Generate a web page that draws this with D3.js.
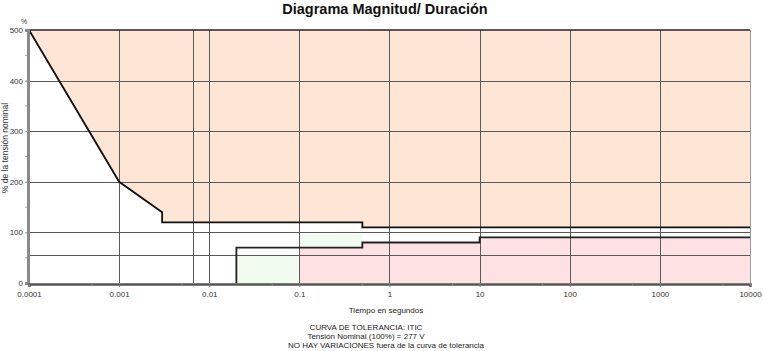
<!DOCTYPE html>
<html>
<head>
<meta charset="utf-8">
<script src="https://cdnjs.cloudflare.com/ajax/libs/d3/7.8.5/d3.min.js"></script>
<style>
  body { margin: 0; background: #fff; }
  svg { font-family: "Liberation Sans", Arial, sans-serif; }
</style>
</head>
<body>
<svg></svg>
<script>
// ITIC curve (time in s, % of nominal)
let upperT = [0.0001, 0.001, 0.003, 0.003, 0.5, 0.5, 10000]
let upperV = [500, 200, 140, 120, 120, 110, 110]
let lowerT = [0.02, 0.02, 0.5, 0.5, 10, 10, 10000]
let lowerV = [0, 70, 70, 80, 80, 90, 90]

// shaded zones [t0, t1, v0, v1]
let greenZones = [[0.02, 0.1, 0, 56], [0.1, 0.5, 72, 96]]
let pinkFrom = 0.1

let xTicks = [0.0001, 0.001, 0.01, 0.1, 1, 10, 100, 1000, 10000]
let xLabels = ['0.0001', '0.001', '0.01', '0.1', '1', '10', '100', '1000', '10000']
let xMinor = [0.0005, 0.005, 0.05, 0.5, 5, 50, 500, 5000]
let yTicks = [0, 100, 200, 300, 400, 500]
let yMinor = [50, 150, 250, 350, 450]
let xExtraGrid = [0.0066]
let yExtraGrid = [56]

let width = 763
let height = 351
let pLeft = 29, pRight = 750, pTop = 30, pBottom = 283

let svg = d3.select('svg').attr('width', width).attr('height', height)

let xScale = d3.scaleLog().domain([0.0001, 10000]).range([pLeft, pRight])
let yScale = d3.scaleLinear().domain([0, 500]).range([pBottom, pTop])

let upper = upperT.map((t, i) => [t, upperV[i]])
let lower = lowerT.map((t, i) => [t, lowerV[i]])

// peach zone above the upper curve
svg.append('path')
   .datum(upper)
   .attr('fill', '#fde6d6')
   .attr('d', d3.area().x(d => xScale(d[0])).y0(yScale(500)).y1(d => yScale(d[1])))

// pink zone under lower curve
svg.append('clipPath').attr('id', 'pinkClip')
   .append('rect')
   .attr('x', xScale(pinkFrom)).attr('y', pTop)
   .attr('width', xScale(10000) - xScale(pinkFrom)).attr('height', pBottom - pTop)

svg.append('path')
   .datum(lower)
   .attr('clip-path', 'url(#pinkClip)')
   .attr('fill', '#fde1e3')
   .attr('d', d3.area().x(d => xScale(d[0])).y0(yScale(0)).y1(d => yScale(d[1])))

svg.selectAll('.green')
   .data(greenZones)
   .enter()
   .append('rect')
   .attr('class', 'green')
   .attr('fill', '#f1fbf0')
   .attr('x', d => xScale(d[0]))
   .attr('width', d => xScale(d[1]) - xScale(d[0]))
   .attr('y', d => yScale(d[3]))
   .attr('height', d => yScale(d[2]) - yScale(d[3]))

// grid
let grid = svg.append('g').attr('stroke', '#5a5a5a').attr('stroke-width', 1)
grid.selectAll('.vg')
    .data(xTicks.slice(1, -1).concat(xExtraGrid))
    .enter().append('line')
    .attr('x1', d => Math.round(xScale(d)) + 0.5).attr('x2', d => Math.round(xScale(d)) + 0.5)
    .attr('y1', pTop).attr('y2', pBottom)
grid.selectAll('.hg')
    .data(yTicks.slice(1, -1).concat(yExtraGrid))
    .enter().append('line')
    .attr('y1', d => Math.round(yScale(d)) + 0.5).attr('y2', d => Math.round(yScale(d)) + 0.5)
    .attr('x1', pLeft).attr('x2', pRight)

// frame top / right
svg.append('line').attr('x1', pLeft).attr('x2', pRight)
   .attr('y1', yScale(500)).attr('y2', yScale(500))
   .attr('stroke', '#222').attr('stroke-width', 1.5)
svg.append('line').attr('x1', xScale(10000) + 0.5).attr('x2', xScale(10000) + 0.5)
   .attr('y1', pTop).attr('y2', pBottom)
   .attr('stroke', '#999').attr('stroke-width', 1)

// curves
let line = d3.line().x(d => xScale(d[0])).y(d => yScale(d[1]))
svg.append('path').datum(upper).attr('fill', 'none')
   .attr('stroke', '#111').attr('stroke-width', 1.8).attr('d', line)
svg.append('path').datum(lower).attr('fill', 'none')
   .attr('stroke', '#222').attr('stroke-width', 1.8).attr('d', line)

// axes
let yAxis = d3.axisLeft(yScale).tickValues(yTicks).tickSize(3).tickPadding(2)
let gy = svg.append('g').attr('transform', 'translate(' + (pLeft - 1) + ',0)').call(yAxis)
gy.select('.domain').attr('stroke', '#8a8a8a').attr('stroke-width', 3)
gy.selectAll('.tick line').attr('stroke', '#888')
gy.selectAll('text').attr('font-size', 8).attr('fill', '#333').attr('font-family', 'Liberation Sans, Arial, sans-serif')

svg.append('g').selectAll('line')
   .data(yMinor).enter().append('line')
   .attr('x1', pLeft - 4).attr('x2', pLeft - 2)
   .attr('y1', d => yScale(d)).attr('y2', d => yScale(d))
   .attr('stroke', '#aaa')

let xAxis = d3.axisBottom(xScale).tickValues(xTicks).tickSize(3).tickPadding(4)
              .tickFormat((d, i) => xLabels[i])
let gx = svg.append('g').attr('transform', 'translate(0,' + (pBottom + 1) + ')').call(xAxis)
gx.select('.domain').attr('stroke', '#555').attr('stroke-width', 2.5)
gx.selectAll('.tick line').attr('stroke', '#777')
gx.selectAll('text').attr('font-size', 8).attr('fill', '#333').attr('font-family', 'Liberation Sans, Arial, sans-serif')

svg.append('g').selectAll('line')
   .data(xMinor).enter().append('line')
   .attr('x1', d => xScale(d)).attr('x2', d => xScale(d))
   .attr('y1', pBottom + 1).attr('y2', pBottom + 3)
   .attr('stroke', '#888')

// texts
svg.append('text').attr('x', 385).attr('y', 14).attr('text-anchor', 'middle')
   .attr('font-size', 14.5).attr('font-weight', 'bold').attr('fill', '#111')
   .text('Diagrama Magnitud/ Duración')

svg.append('text').attr('x', 24).attr('y', 24).attr('text-anchor', 'middle')
   .attr('font-size', 7).attr('fill', '#333').text('%')

svg.append('text').attr('transform', 'translate(8,148) rotate(-90)')
   .attr('text-anchor', 'middle').attr('font-size', 8.5).attr('fill', '#333')
   .text('% de la tensión nominal')

svg.append('text').attr('x', 386).attr('y', 313).attr('text-anchor', 'middle')
   .attr('font-size', 8).attr('fill', '#222').text('Tiempo en segundos')

let notes = ['CURVA DE TOLERANCIA: ITIC', 'Tensión Nominal (100%) = 277 V', 'NO HAY VARIACIONES fuera de la curva de tolerancia']
let noteX = [366, 366, 386]
svg.selectAll('.note').data(notes).enter().append('text')
   .attr('class', 'note')
   .attr('x', (d, i) => noteX[i]).attr('y', (d, i) => 330 + i * 9)
   .attr('text-anchor', 'middle').attr('font-size', 8).attr('fill', '#222')
   .text(d => d)
</script>
</body>
</html>
